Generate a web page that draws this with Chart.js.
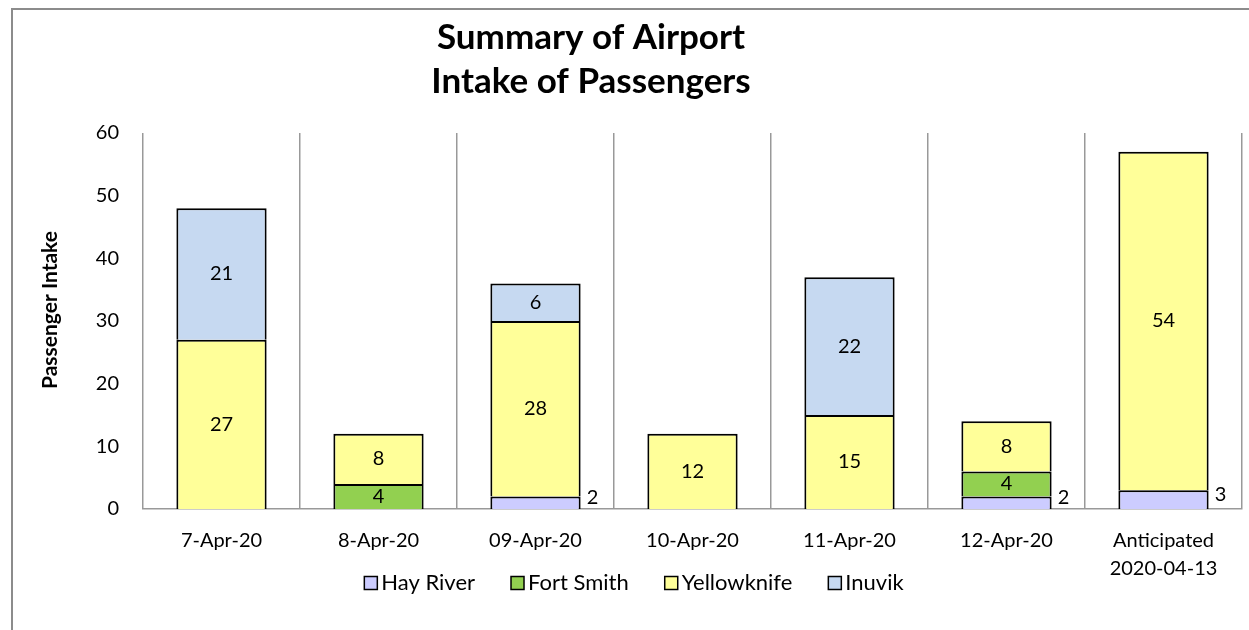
<!DOCTYPE html>
<html>
<head>
<meta charset="utf-8">
<script src="https://cdn.jsdelivr.net/npm/chart.js@4/dist/chart.umd.min.js"></script>
<style>
  html, body { margin: 0; padding: 0; background: #fff; }
  #wrap { width: 1249px; height: 630px; position: relative; }
</style>
</head>
<body>
<div id="wrap"><canvas id="c" width="1249" height="630"></canvas></div>
<script>
const titleLines = ['Summary of Airport', 'Intake of Passengers'];
const yAxisTitle = 'Passenger Intake';
const categories = ['7-Apr-20', '8-Apr-20', '09-Apr-20', '10-Apr-20', '11-Apr-20', '12-Apr-20', ['Anticipated', '2020-04-13']];
const seriesNames = ['Hay River', 'Fort Smith', 'Yellowknife', 'Inuvik'];
const hayRiver    = [0, 0, 2, 0, 0, 2, 3];
const fortSmith   = [0, 4, 0, 0, 0, 4, 0];
const yellowknife = [27, 8, 28, 12, 15, 8, 54];
const inuvik      = [21, 0, 6, 0, 22, 0, 0];
const yMin = 0, yMax = 60, yStep = 10;

const seriesValues = [hayRiver, fortSmith, yellowknife, inuvik];
const seriesColors = ['#CCCCFF', '#92D050', '#FFFF99', '#C6D9F1'];
const FONT = 'Lato, Carlito, "Liberation Sans", sans-serif';

const frame = {
  id: 'frame',
  beforeDraw(chart) {
    const ctx = chart.ctx;
    ctx.save();
    ctx.fillStyle = '#fff';
    ctx.fillRect(0, 0, chart.width, chart.height);
    ctx.strokeStyle = '#8c8c8c';
    ctx.lineWidth = 2;
    ctx.beginPath();
    ctx.moveTo(12, chart.height + 2);
    ctx.lineTo(12, 9);
    ctx.lineTo(chart.width + 2, 9);
    ctx.stroke();
    ctx.restore();
  }
};

const titlePlugin = {
  id: 'titleDraw',
  afterDraw(chart) {
    const ctx = chart.ctx;
    ctx.save();
    ctx.fillStyle = '#000';
    ctx.font = 'bold 35px ' + FONT;
    ctx.textAlign = 'center';
    ctx.textBaseline = 'middle';
    ctx.fillText(titleLines[0], 591, 38);
    ctx.fillText(titleLines[1], 591, 82);
    // y axis title
    ctx.font = 'bold 21px ' + FONT;
    ctx.translate(50, 310);
    ctx.rotate(-Math.PI / 2);
    ctx.fillText(yAxisTitle, 0, 0);
    ctx.restore();
  }
};

const labelsPlugin = {
  id: 'barLabels',
  afterDatasetsDraw(chart) {
    const ctx = chart.ctx;
    ctx.save();
    ctx.fillStyle = '#000';
    ctx.font = '20px ' + FONT;
    ctx.textBaseline = 'middle';
    chart.data.datasets.forEach((ds, di) => {
      const meta = chart.getDatasetMeta(di);
      meta.data.forEach((bar, i) => {
        const v = ds.data[i];
        if (!v) return;
        const top = Math.min(bar.y, bar.base), bottom = Math.max(bar.y, bar.base);
        const mid = (top + bottom) / 2;
        if (di === 0) {
          ctx.textAlign = 'left';
          ctx.fillText(String(v), bar.x + bar.width / 2 + 6, mid - 5);
        } else {
          ctx.textAlign = 'center';
          ctx.fillText(String(v), bar.x, mid);
        }
      });
    });
    ctx.restore();
  }
};

const legendPlugin = {
  id: 'legendDraw',
  afterDraw(chart) {
    const ctx = chart.ctx;
    ctx.save();
    ctx.font = '22px ' + FONT;
    ctx.textBaseline = 'middle';
    ctx.textAlign = 'left';
    const box = 13, gapText = 4, gapItem = 36;
    const items = chart.data.datasets.map(ds => ({ label: ds.label, color: ds.backgroundColor, w: box + gapText + ctx.measureText(ds.label).width }));
    const total = items.reduce((s, it) => s + it.w, 0) + gapItem * (items.length - 1);
    let x = 634 - total / 2;
    const y = 583;
    items.forEach(it => {
      ctx.fillStyle = it.color;
      ctx.fillRect(x, y - box / 2, box, box);
      ctx.strokeStyle = '#000';
      ctx.lineWidth = 1.5;
      ctx.strokeRect(x, y - box / 2, box, box);
      ctx.fillStyle = '#000';
      ctx.fillText(it.label, x + box + gapText, y);
      x += it.w + gapItem;
    });
    ctx.restore();
  }
};

const datasets = seriesNames.map((name, k) => ({
  label: name,
  data: seriesValues[k].map(v => v === 0 ? null : v),
  backgroundColor: seriesColors[k],
  borderColor: '#000',
  borderWidth: 2,
  borderSkipped: 'bottom',
  inflateAmount: 0,
  barPercentage: 0.575,
  categoryPercentage: 1.0
}));

new Chart(document.getElementById('c'), {
  type: 'bar',
  data: { labels: categories, datasets },
  options: {
    responsive: false,
    animation: false,
    layout: { padding: { left: 0, right: 7, top: 133, bottom: 0 } },
    plugins: {
      legend: { display: false },
      title: { display: false },
      tooltip: { enabled: false }
    },
    scales: {
      x: {
        stacked: true,
        grid: { display: true, offset: true, color: '#999', lineWidth: 1.5, drawTicks: false },
        border: { display: true, color: '#999', width: 1.5 },
        ticks: { color: '#000', font: { family: FONT, size: 20, lineHeight: 1.4 }, padding: 18, maxRotation: 0, autoSkip: false },
        afterFit(scale) { scale.height = 121; }
      },
      y: {
        stacked: true,
        min: yMin, max: yMax,
        grid: { display: false },
        border: { display: false },
        ticks: { stepSize: yStep, color: '#000', font: { family: FONT, size: 20 }, padding: 16 },
        afterFit(scale) { scale.width = 143; }
      }
    }
  },
  plugins: [frame, labelsPlugin, titlePlugin, legendPlugin]
});
</script>
</body>
</html>
